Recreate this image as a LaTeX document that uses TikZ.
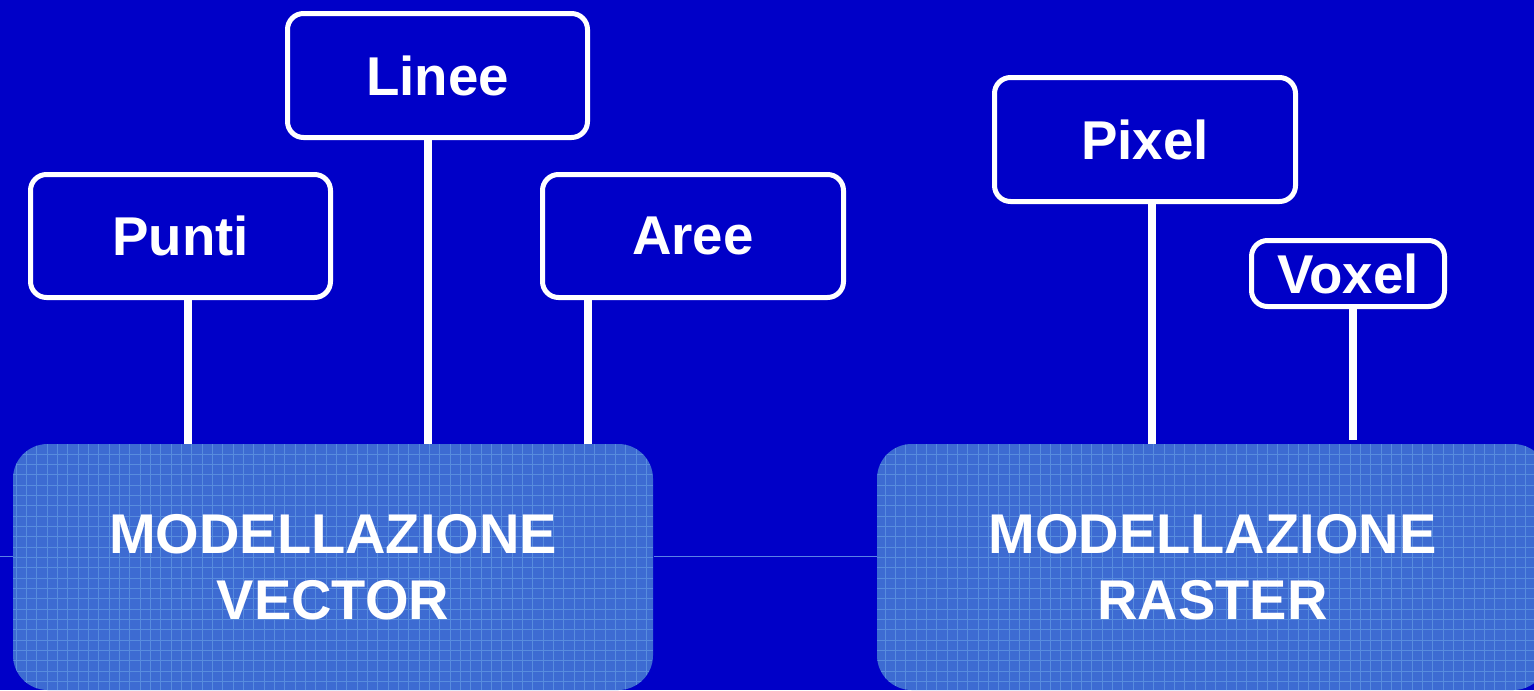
\documentclass[tikz,border=0pt]{standalone}
\usepackage{fontspec}
\setmainfont{Liberation Sans}

\definecolor{sfondo}{RGB}{0,0,200}
\definecolor{basefill}{RGB}{61,107,210}
\definecolor{griglia}{RGB}{88,140,222}
\definecolor{traccia}{RGB}{90,130,230}

\tikzset{every picture/.style={line width=0.75pt}}
\tikzset{
  cartello/.style={draw=white, line width=3.75pt, rounded corners=12pt, fill=sfondo,
    text=white, font=\fontsize{41}{49}\selectfont\bfseries, inner sep=0pt},
  base/.style={rounded corners=26pt, fill=basefill, text=white, align=center,
    font=\fontsize{42}{49.5}\selectfont\bfseries, inner sep=0pt,
    path picture={\draw[griglia, line width=0.6pt] (path picture bounding box.south west) grid[step=7.75pt] (path picture bounding box.north east);}},
  asta/.style={draw=white, line width=6pt}
}

\begin{document}
\begin{tikzpicture}[x=0.75pt,y=0.75pt,yscale=-1,xscale=1]
\fill[sfondo] (0,0) rectangle (1534,690);
\useasboundingbox (0,0) rectangle (1534,690);

% basi
\node[base, minimum width=640*0.75pt, minimum height=246*0.75pt] (vector) at (333,567) {MODELLAZIONE\\VECTOR};
\node[base, minimum width=671*0.75pt, minimum height=246*0.75pt] (raster) at (1212.5,567) {MODELLAZIONE\\RASTER};
\draw[traccia, line width=0.5pt] (0,556) -- (vector.west |- 0,556);
\draw[traccia, line width=0.5pt] (vector.east |- 0,556) -- (raster.west |- 0,556);

% cartelli
\node[cartello, minimum width=300*0.75pt, minimum height=123*0.75pt] (punti) at (180.5,236) {Punti};
\node[cartello, minimum width=300*0.75pt, minimum height=124*0.75pt] (linee) at (437.5,75.5) {Linee};
\node[cartello, minimum width=301*0.75pt, minimum height=123*0.75pt] (aree) at (693,236) {Aree};
\node[cartello, minimum width=301*0.75pt, minimum height=124*0.75pt] (pixel) at (1145,139.5) {Pixel};
\node[cartello, minimum width=193*0.75pt, minimum height=66*0.75pt] (voxel) at (1348,273.5) {Voxel};

% aste
\draw[asta] (punti.south) ++(7.5,0) coordinate (p1) -- (p1 |- vector.north);
\draw[asta] (linee.south) ++(-9.5,0) coordinate (p2) -- (p2 |- vector.north);
\draw[asta] (aree.south) ++(-105,0) coordinate (p3) -- (p3 |- vector.north);
\draw[asta] (pixel.south) ++(7,0) coordinate (p4) -- (p4 |- raster.north);
\draw[asta, shorten >=3pt] (voxel.south) ++(5,0) coordinate (p5) -- (p5 |- raster.north);
\end{tikzpicture}
\end{document}
